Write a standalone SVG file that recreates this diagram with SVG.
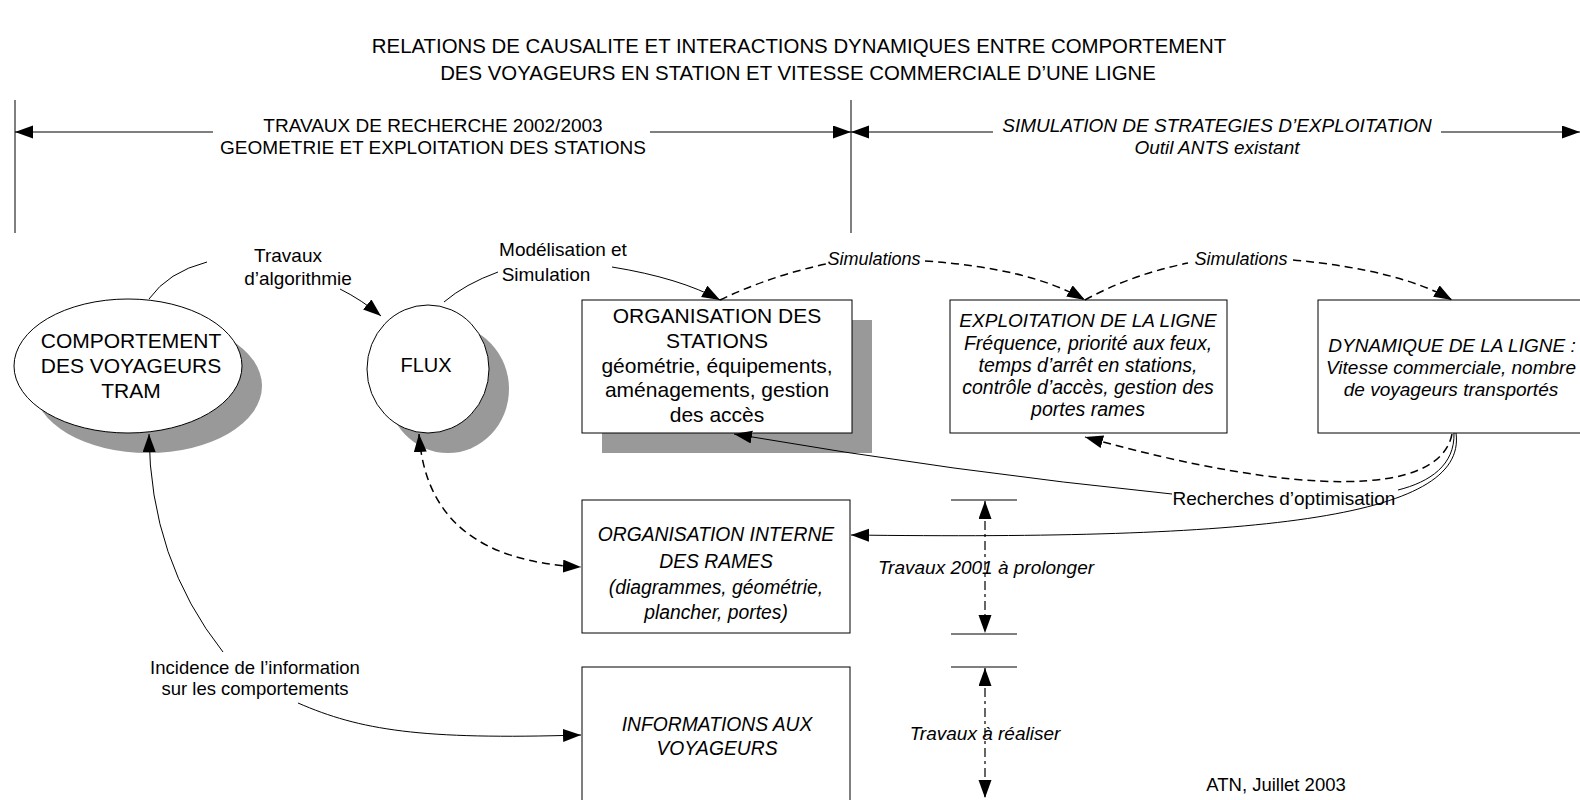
<svg xmlns="http://www.w3.org/2000/svg" width="1580" height="800" viewBox="0 0 1580 800">
<defs>
<marker id="ah" markerUnits="userSpaceOnUse" markerWidth="20" markerHeight="14" refX="18" refY="6.5" orient="auto-start-reverse" viewBox="0 0 20 14">
<path d="M0,0 L18,6.5 L0,13 z" fill="#000"/>
</marker>
<style>
.t{font-family:"Liberation Sans",Arial,sans-serif;fill:#000;text-anchor:middle}
.i{font-style:italic}
.box{fill:#fff;stroke:#000;stroke-width:1}
.sh{fill:#999}
.ln{fill:none;stroke:#000;stroke-width:1}
.dl{fill:none;stroke:#000;stroke-width:1.5;stroke-dasharray:8 5}
.dd{fill:none;stroke:#000;stroke-width:1.2;stroke-dasharray:9 4 3 4}
.ar{marker-end:url(#ah)}
.as{marker-start:url(#ah)}
</style>
</defs>
<rect width="1580" height="800" fill="#fff"/>

<g id="title">
<text class="t" x="799" y="53" font-size="20.4">RELATIONS DE CAUSALITE ET INTERACTIONS DYNAMIQUES ENTRE COMPORTEMENT</text>
<text class="t" x="798" y="80" font-size="20.4">DES VOYAGEURS EN STATION ET VITESSE COMMERCIALE D’UNE LIGNE</text>
</g>

<g id="header">
<line class="ln" x1="15" y1="100" x2="15" y2="233"/>
<line class="ln" x1="851" y1="100" x2="851" y2="233"/>
<line class="ln as" x1="15" y1="132" x2="213" y2="132"/>
<line class="ln ar" x1="650" y1="132" x2="851" y2="132"/>
<text class="t" x="433" y="132" font-size="19">TRAVAUX DE RECHERCHE 2002/2003</text>
<text class="t" x="433" y="154" font-size="19">GEOMETRIE ET EXPLOITATION DES STATIONS</text>
<line class="ln as" x1="851" y1="132" x2="993" y2="132"/>
<line class="ln ar" x1="1441" y1="132" x2="1580" y2="132"/>
<text class="t i" x="1217" y="132" font-size="19">SIMULATION DE STRATEGIES D’EXPLOITATION</text>
<text class="t i" x="1217" y="154" font-size="19">Outil ANTS existant</text>
</g>

<g id="comportement">
<ellipse class="sh" cx="148" cy="386" rx="114" ry="67"/>
<ellipse class="box" cx="128" cy="366" rx="114" ry="67"/>
<text class="t" x="131" y="348" font-size="21">COMPORTEMENT</text>
<text class="t" x="131" y="373" font-size="21">DES VOYAGEURS</text>
<text class="t" x="131" y="398" font-size="21">TRAM</text>
</g>

<g id="flux">
<ellipse class="sh" cx="448" cy="389" rx="61" ry="64"/>
<ellipse class="box" cx="428" cy="369" rx="61" ry="64"/>
<text class="t" x="426" y="372" font-size="20">FLUX</text>
</g>

<g id="org-stations">
<rect class="sh" x="602" y="320" width="270" height="133"/>
<rect class="box" x="582" y="300" width="270" height="133"/>
<text class="t" x="717" y="323" font-size="21">ORGANISATION DES</text>
<text class="t" x="717" y="348" font-size="21">STATIONS</text>
<text class="t" x="717" y="373" font-size="21">géométrie, équipements,</text>
<text class="t" x="717" y="397" font-size="21">aménagements, gestion</text>
<text class="t" x="717" y="422" font-size="21">des accès</text>
</g>

<g id="exploitation">
<rect class="box" x="950" y="300" width="277" height="133"/>
<text class="t i" x="1088" y="327" font-size="19">EXPLOITATION DE LA LIGNE</text>
<text class="t i" x="1088" y="350" font-size="19.5">Fréquence, priorité aux feux,</text>
<text class="t i" x="1088" y="372" font-size="19.5">temps d’arrêt en stations,</text>
<text class="t i" x="1088" y="394" font-size="19.5">contrôle d’accès, gestion des</text>
<text class="t i" x="1088" y="416" font-size="19.5">portes rames</text>
</g>

<g id="dynamique">
<rect class="box" x="1318" y="300" width="270" height="133"/>
<text class="t i" x="1452" y="352" font-size="19">DYNAMIQUE DE LA LIGNE :</text>
<text class="t i" x="1451" y="374" font-size="19">Vitesse commerciale, nombre</text>
<text class="t i" x="1451" y="396" font-size="19">de voyageurs transportés</text>
</g>

<g id="org-interne">
<rect class="box" x="582" y="500" width="268" height="133"/>
<text class="t i" x="716" y="541" font-size="19.3">ORGANISATION INTERNE</text>
<text class="t i" x="716" y="568" font-size="19.3">DES RAMES</text>
<text class="t i" x="716" y="594" font-size="19.3">(diagrammes, géométrie,</text>
<text class="t i" x="716" y="619" font-size="19.3">plancher, portes)</text>
</g>

<g id="informations">
<rect class="box" x="582" y="667" width="268" height="140"/>
<text class="t i" x="717" y="731" font-size="19.3">INFORMATIONS AUX</text>
<text class="t i" x="717" y="755" font-size="19.3">VOYAGEURS</text>
</g>

<g id="labels">
<text class="t" x="288" y="262" font-size="19">Travaux</text>
<text class="t" x="298" y="285" font-size="19">d’algorithmie</text>
<text class="t" x="563" y="256" font-size="19">Modélisation et</text>
<text class="t" x="546" y="281" font-size="19">Simulation</text>
<text class="t i" x="874" y="265" font-size="18">Simulations</text>
<text class="t i" x="1241" y="265" font-size="18">Simulations</text>
<text class="t" x="1284" y="505" font-size="19">Recherches d’optimisation</text>
<text class="t i" x="986" y="574" font-size="19">Travaux 2001 à prolonger</text>
<text class="t i" x="985" y="740" font-size="19">Travaux à réaliser</text>
<text class="t" x="255" y="674" font-size="18.5">Incidence de l’information</text>
<text class="t" x="255" y="695" font-size="18.5">sur les comportements</text>
<text class="t" x="1276" y="791" font-size="18.5">ATN, Juillet 2003</text>
</g>

<g id="connectors">
<path class="ln" d="M207 262 Q168 272 149 299"/>
<path class="ln ar" d="M340 289 Q362 300 381 316"/>
<path class="ln" d="M498 272 Q465 284 444 302"/>
<path class="ln ar" d="M612 267 Q680 278 720 300"/>
<path class="dl" d="M720 300 Q770 276 826 264"/>
<path class="dl ar" d="M925 261 Q1030 268 1085 300"/>
<path class="dl" d="M1085 300 Q1130 275 1188 263"/>
<path class="dl ar" d="M1293 260 Q1400 270 1452 300"/>
<path class="ln ar" d="M223 652 Q150 560 149 434"/>
<path class="ln ar" d="M298 703 C360 730 420 740 581 735"/>
<path class="dl as ar" d="M419 434 C425 520 480 562 581 567"/>
<path class="dl ar" d="M1452 434 C1440 497 1300 497 1085 437"/>
<path class="ln" d="M1454 433 C1455 465 1430 482 1398 490"/>
<path class="ln ar" d="M1172 494 Q955 472 734 434"/>
<path class="ln ar" d="M1456 433 C1468 520 1250 540 851 535"/>
<line class="ln" x1="951" y1="500" x2="1017" y2="500"/>
<line class="ln" x1="951" y1="634" x2="1017" y2="634"/>
<line class="ln" x1="951" y1="667" x2="1017" y2="667"/>
<line class="dd as ar" x1="985" y1="501" x2="985" y2="633"/>
<line class="dd as ar" x1="985" y1="668" x2="985" y2="798"/>
</g>
</svg>
